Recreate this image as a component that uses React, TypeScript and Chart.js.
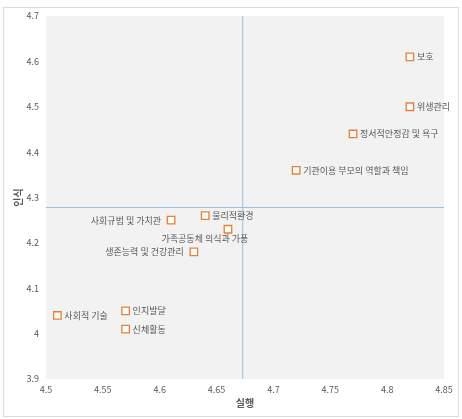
import React, { useEffect, useRef } from "react";
import { Chart, registerables } from "chart.js";
Chart.register(...registerables);

const labels = [
  "보호",
  "위생관리",
  "정서적안정감 및 욕구",
  "기관이용 부모의 역할과 책임",
  "사회규범 및 가치관",
  "물리적환경",
  "가족공동체 의식과 가풍",
  "생존능력 및 건강관리",
  "사회적 기술",
  "인지발달",
  "신체활동",
];
const practice = [4.82, 4.82, 4.77, 4.72, 4.61, 4.64, 4.66, 4.63, 4.51, 4.57, 4.57];
const awareness = [4.61, 4.5, 4.44, 4.36, 4.25, 4.26, 4.23, 4.18, 4.04, 4.05, 4.01];
const labelSide = ["right", "right", "right", "right", "left", "right", "below", "left", "right", "right", "right"];
const practiceMean = 4.673;
const awarenessMean = 4.278;
const xTicks = [4.5, 4.55, 4.6, 4.65, 4.7, 4.75, 4.8, 4.85];
const yTicks = [3.9, 4.0, 4.1, 4.2, 4.3, 4.4, 4.5, 4.6, 4.7];
const xTitle = "실행";
const yTitle = "인식";

const FONT = "'Noto Sans CJK KR', 'Noto Sans', sans-serif";

export default function App() {
  const ref = useRef<HTMLCanvasElement | null>(null);
  useEffect(() => {
    if (!ref.current) return;
    const bgPlugin = {
      id: "bg",
      beforeDraw(chart: any) {
        const { ctx, chartArea } = chart;
        ctx.save();
        ctx.fillStyle = "#ffffff";
        ctx.fillRect(0, 0, chart.width, chart.height);
        ctx.strokeStyle = "#dcdcdc";
        ctx.lineWidth = 1;
        ctx.strokeRect(3.5, 7.5, 455, 409);
        ctx.fillStyle = "#f2f2f2";
        ctx.fillRect(chartArea.left, chartArea.top, chartArea.right - chartArea.left, chartArea.bottom - chartArea.top);
        ctx.restore();
      },
    };
    const labelPlugin = {
      id: "pointLabels",
      afterDatasetsDraw(chart: any) {
        const { ctx } = chart;
        const meta = chart.getDatasetMeta(2);
        ctx.save();
        ctx.font = `9px ${FONT}`;
        ctx.fillStyle = "#595959";
        ctx.textBaseline = "middle";
        meta.data.forEach((pt: any, i: number) => {
          const side = labelSide[i];
          if (side === "left") {
            ctx.textAlign = "right";
            ctx.fillText(labels[i], pt.x - 10, pt.y);
          } else if (side === "below") {
            ctx.textAlign = "center";
            ctx.fillText(labels[i], pt.x - 23, pt.y + 9);
          } else {
            ctx.textAlign = "left";
            ctx.fillText(labels[i], pt.x + 7, pt.y);
          }
        });
        ctx.restore();
      },
    };
    const chart = new Chart(ref.current, {
      type: "scatter",
      data: {
        datasets: [
          {
            label: "v",
            data: [
              { x: practiceMean, y: yTicks[0] },
              { x: practiceMean, y: yTicks[yTicks.length - 1] },
            ],
            showLine: true,
            borderColor: "#9dbfe0",
            borderWidth: 1,
            pointRadius: 0,
          },
          {
            label: "h",
            data: [
              { x: xTicks[0], y: awarenessMean },
              { x: xTicks[xTicks.length - 1], y: awarenessMean },
            ],
            showLine: true,
            borderColor: "#9dbfe0",
            borderWidth: 1,
            pointRadius: 0,
          },
          {
            label: "points",
            data: practice.map((x, i) => ({ x, y: awareness[i] })),
            pointStyle: "rect",
            pointRadius: 5.3,
            borderColor: "#ed7d31",
            backgroundColor: "#ffffff",
            borderWidth: 1.3,
          },
        ],
      },
      options: {
        animation: false,
        responsive: false,
        maintainAspectRatio: false,
        layout: { padding: { left: 0, right: 18, top: 16, bottom: 0 } },
        plugins: { legend: { display: false }, tooltip: { enabled: false } },
        scales: {
          x: {
            type: "linear",
            min: xTicks[0],
            max: xTicks[xTicks.length - 1],
            border: { display: false },
            grid: { display: false, drawTicks: false },
            afterBuildTicks: (s: any) => {
              s.ticks = xTicks.map((v) => ({ value: v }));
            },
            afterFit: (s: any) => {
              s.height = 40;
            },
            ticks: {
              padding: 5,
              color: "#595959",
              font: { family: FONT, size: 9 },
              maxRotation: 0,
              callback: (v: any) => String(Number(v)),
            },
            title: {
              display: true,
              text: xTitle,
              color: "#595959",
              font: { family: FONT, size: 10, weight: "bold" },
              padding: { top: 0, bottom: 10 },
            },
          },
          y: {
            type: "linear",
            min: yTicks[0],
            max: yTicks[yTicks.length - 1],
            border: { display: false },
            grid: { display: false, drawTicks: false },
            afterBuildTicks: (s: any) => {
              s.ticks = yTicks.map((v) => ({ value: v }));
            },
            afterFit: (s: any) => {
              s.width = 46;
            },
            ticks: {
              padding: 7,
              color: "#595959",
              font: { family: FONT, size: 9 },
              callback: (v: any) => String(Number(v)),
            },
            title: {
              display: true,
              text: yTitle,
              color: "#595959",
              font: { family: FONT, size: 10, weight: "bold" },
              padding: { top: 12, bottom: 0 },
            },
          },
        },
      },
      plugins: [bgPlugin, labelPlugin],
    } as any);
    return () => chart.destroy();
  }, []);
  return (
    <div style={{ position: "absolute", left: 0, top: 0, width: 462, height: 419 }}>
      <canvas ref={ref} width={462} height={419} style={{ width: 462, height: 419, display: "block" }} />
    </div>
  );
}
